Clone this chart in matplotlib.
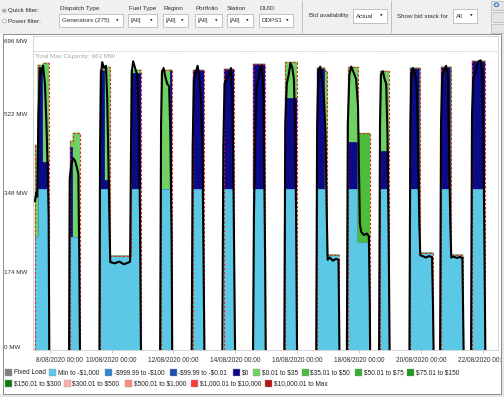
import matplotlib
matplotlib.use('Agg')
import matplotlib.pyplot as plt
import numpy as np
import matplotlib.transforms as mtransforms
from matplotlib.patches import Rectangle, Circle

W, H, DPI = 504, 397, 100
plt.rcParams['font.family'] = ['Liberation Sans', 'DejaVu Sans']
plt.rcParams['text.parse_math'] = False

# ---------------- data ----------------
# bid-stack segments: day of August 2020 (fractional), MW per price band
seg_start = [7.53, 7.62, 7.80, 8.66, 8.77, 9.63, 9.80, 9.95, 10.63, 11.60, 11.88,
             12.63, 13.63, 14.58, 15.60, 16.64, 16.90, 16.96, 17.64, 17.96,
             18.67, 19.64, 19.96, 20.64, 20.96, 21.64]
seg_end = [7.62, 7.80, 7.98, 8.77, 8.98, 9.80, 9.95, 10.63, 10.95, 11.88, 11.96,
           12.99, 13.96, 14.96, 15.99, 16.90, 16.96, 17.35, 17.96, 18.35,
           18.96, 19.96, 20.38, 20.96, 21.35, 22.06]
band_min_to_1000 = [251, 357, 357, 251, 251, 357, 357, 208, 357, 357, 357,
                    357, 357, 357, 357, 357, 357, 210, 357, 240,
                    357, 357, 214, 357, 210, 357]
band_zero = [0, 270, 60, 200, 0, 263, 20, 0, 258, 0, 264,
             263, 265, 276, 201, 267, 0, 0, 103, 0,
             83, 267, 0, 270, 0, 284]
band_001_35 = [203, 5, 220, 12, 230, 0, 251, 0, 5, 264, 0,
               0, 0, 0, 80, 0, 262, 0, 168, 0,
               178, 0, 0, 0, 0, 0]
band_3501_50 = [0, 0, 0, 0, 0, 0, 0, 0, 0, 0, 0,
                0, 0, 0, 0, 0, 0, 0, 0, 242,
                0, 0, 0, 0, 0, 0]

# dispatch (black line); NaN separates operating periods
disp_day = [7.53, 7.57, 7.60, 7.64, 7.69, 7.74, 7.79, 7.85, 7.90, 7.94, 7.97, 7.99, np.nan,
            8.63, 8.65, 8.70, 8.76, 8.82, 8.88, 8.93, 8.96, 8.98, np.nan,
            9.61, 9.63, 9.66, 9.70, 9.76, 9.82, 9.86, 9.90, 9.94, 9.96, 10.10, 10.25, 10.40,
            10.55, 10.60, 10.63, 10.66, 10.70, 10.76, 10.83, 10.88, 10.92, 10.95, np.nan,
            11.57, 11.60, 11.63, 11.68, 11.74, 11.80, 11.86, 11.90, 11.94, 11.96, np.nan,
            12.59, 12.62, 12.66, 12.72, 12.78, 12.84, 12.90, 12.94, 12.97, 13.00, np.nan,
            13.58, 13.61, 13.65, 13.72, 13.80, 13.86, 13.90, 13.93, 13.96, 13.99, np.nan,
            14.57, 14.60, 14.64, 14.68, 14.74, 14.80, 14.85, 14.90, 14.93, 14.96, 14.98, np.nan,
            15.58, 15.61, 15.66, 15.72, 15.78, 15.84, 15.89, 15.93, 15.96, 15.99, np.nan,
            16.61, 16.64, 16.68, 16.74, 16.80, 16.86, 16.91, 16.95, 16.98, 17.05, 17.15,
            17.25, 17.33, 17.36, np.nan,
            17.60, 17.63, 17.68, 17.74, 17.82, 17.90, 17.96, 17.99, 18.02, 18.06, 18.15,
            18.25, 18.31, 18.34, 18.35, np.nan,
            18.64, 18.67, 18.70, 18.76, 18.82, 18.87, 18.91, 18.95, 18.98, np.nan,
            19.62, 19.65, 19.68, 19.73, 19.79, 19.85, 19.90, 19.94, 19.97, 20.05, 20.15,
            20.25, 20.35, 20.38, 20.40, np.nan,
            20.61, 20.64, 20.68, 20.74, 20.80, 20.86, 20.90, 20.94, 20.97, 21.05, 21.15,
            21.25, 21.33, 21.35, 21.37, np.nan,
            21.61, 21.64, 21.68, 21.74, 21.80, 21.86, 21.92, 21.97, 22.01, 22.04, 22.07]
disp_mw = [330, 350, 340, 520, 625, 615, 630, 590, 500, 400, 300, 0, np.nan,
           0, 380, 410, 425, 420, 405, 390, 200, 0, np.nan,
           0, 450, 610, 638, 625, 630, 560, 420, 260, 195, 192, 196, 190,
           194, 196, 450, 620, 640, 625, 610, 520, 300, 0, np.nan,
           0, 500, 615, 625, 605, 590, 585, 480, 250, 0, np.nan,
           0, 450, 600, 615, 630, 605, 540, 420, 200, 0, np.nan,
           0, 450, 590, 600, 612, 625, 560, 420, 200, 0, np.nan,
           0, 300, 480, 580, 600, 625, 630, 580, 420, 200, 0, np.nan,
           0, 500, 590, 610, 636, 625, 600, 500, 300, 0, np.nan,
           0, 500, 620, 628, 600, 560, 480, 300, 200, 205, 198,
           202, 200, 0, np.nan,
           0, 500, 610, 628, 615, 600, 540, 400, 280, 262, 255,
           258, 252, 100, 0, np.nan,
           0, 500, 610, 618, 600, 590, 480, 250, 0, np.nan,
           0, 500, 610, 625, 615, 590, 450, 280, 210, 208, 205,
           208, 206, 100, 0, np.nan,
           0, 500, 610, 618, 630, 610, 450, 280, 205, 207, 204,
           206, 204, 100, 0, np.nan,
           0, 520, 600, 612, 630, 640, 642, 610, 450, 250, 0]

total_max_capacity = 663
ytick_vals = [0, 174, 348, 522, 696]
ytick_labels = ['0 MW', '174 MW', '348 MW', '522 MW', '696 MW']
xtick_days = [8, 10, 12, 14, 16, 18, 20, 22]
xtick_labels = ['8/08/2020 00:00', '10/08/2020 00:00', '12/08/2020 00:00', '14/08/2020 00:00',
                '16/08/2020 00:00', '18/08/2020 00:00', '20/08/2020 00:00', '22/08/2020 00:00']

legend_labels = ['Fixed Load', 'Min to -$1,000', '-$999.99 to -$100', '-$99.99 to -$0.01', '$0',
                 '$0.01 to $35', '$35.01 to $50', '$50.01 to $75', '$75.01 to $150',
                 '$150.01 to $300', '$300.01 to $500', '$500.01 to $1,000',
                 '$1,000.01 to $10,000', '$10,000.01 to Max']
legend_colors = ['#808080', '#5bc8e6', '#2f86cf', '#1c4fb3', '#0b0b8a',
                 '#6dd163', '#4cbc3c', '#30b030', '#1a9e1a',
                 '#0d7a0d', '#ffb0a8', '#ff8a80', '#ff3b3b', '#b31515']

# ---------------- figure ----------------
fig = plt.figure(figsize=(W / DPI, H / DPI), dpi=DPI)
fig.patch.set_facecolor('white')


def fx(x):
    return x / W


def fy(y):
    return 1 - y / H


def prect(x0, y0, x1, y1, **kw):
    r = Rectangle((fx(x0), fy(y1)), (x1 - x0) / W, (y1 - y0) / H,
                  transform=fig.transFigure, **kw)
    fig.add_artist(r)
    return r


def ptext(x, y, s, **kw):
    kw.setdefault('fontsize', 4.5)
    kw.setdefault('va', 'center')
    kw.setdefault('color', '#303030')
    return fig.text(fx(x), fy(y), s, **kw)


# toolbar
prect(0, 0, W, 34, facecolor='#f0f0f0', edgecolor='none')
prect(0, 33.6, W, 34.4, facecolor='#c8c8c8', edgecolor='none')
# radio buttons
for cy, lab, sel in [(10.7, 'Quick filter:', True), (21.3, 'Power filter:', False)]:
    fig.add_artist(Circle((fx(4.3), fy(cy)), 2.2 / W, transform=fig.transFigure,
                          facecolor='white', edgecolor='#909090', lw=0.4))
    if sel:
        fig.add_artist(Circle((fx(4.3), fy(cy)), 1.1 / W, transform=fig.transFigure,
                              facecolor='#3a6fc0', edgecolor='none'))
    ptext(8.5, cy, lab)
for sx, y0, y1 in [(54.5, 3, 31), (302, 1, 33), (391, 1, 33)]:
    prect(sx, y0, sx + 0.6, y1, facecolor='#c0c0c0', edgecolor='none')


def combo(x0, x1, y0, y1, s):
    prect(x0, y0, x1, y1, facecolor='white', edgecolor='#9a9a9a', lw=0.4)
    ptext(x0 + 2.5, (y0 + y1) / 2, s)
    ptext(x1 - 5.5, (y0 + y1) / 2, '\u25BC', fontsize=2.4, family='DejaVu Sans', ha='center')


filters = [('Dispatch Type', 60, 59, 123, 'Generators (275)'),
           ('Fuel Type', 129, 128, 157, '[All]'),
           ('Region', 163, 163, 188, '[All]'),
           ('Portfolio', 195, 195, 222, '[All]'),
           ('Station', 227, 227, 253, '[All]'),
           ('DUID', 259, 259, 293, 'DDPS1')]
for lab, lx, cx0, cx1, val in filters:
    ptext(lx, 8.3, lab)
    combo(cx0, cx1, 14, 26.5, val)
ptext(309, 16, 'Bid availability')
combo(353, 387, 9.5, 22.5, 'Actual')
ptext(397, 16, 'Show bid stack for')
combo(453, 477, 9.5, 22.5, 'All')
for y0, y1 in [(0.5, 10), (12, 22), (24, 33)]:
    prect(490.5, y0, 503.5, y1, facecolor='#e4e4e4', edgecolor='#a8a8a8', lw=0.4)
fig.add_artist(Circle((fx(496.5), fy(4.8)), 2.2 / W, transform=fig.transFigure,
                      facecolor='none', edgecolor='#2b78d0', lw=0.8))

# frame / shadow
prect(500.5, 34, W, H, facecolor='#e6e6e6', edgecolor='none')
prect(0, 393.5, W, H, facecolor='#e6e6e6', edgecolor='none')
prect(2.5, 34.4, 500.5, 393.5, facecolor='none', edgecolor='#7a7a7a', lw=0.6)

# ---------------- chart ----------------
ax = fig.add_axes([fx(33), fy(350), (498 - 33) / W, (350 - 36) / H])
ax.set_xlim(7.465, 22.48)
ax.set_ylim(0, 696)

bands = [(band_min_to_1000, legend_colors[1]), (band_zero, legend_colors[4]),
         (band_001_35, legend_colors[5]), (band_3501_50, legend_colors[6])]

# split into contiguous runs
runs = []
cur = [0]
for i in range(1, len(seg_start)):
    if abs(seg_start[i] - seg_end[i - 1]) < 1e-9:
        cur.append(i)
    else:
        runs.append(cur)
        cur = [i]
runs.append(cur)

for run in runs:
    xs = [seg_start[i] for i in run] + [seg_end[run[-1]]]
    lower = np.zeros(len(xs))
    for vals, col in bands:
        v = np.array([vals[i] for i in run] + [vals[run[-1]]], dtype=float)
        ax.fill_between(xs, lower, lower + v, step='post', facecolor=col,
                        edgecolor=col, lw=0.2)
        lower = lower + v
    # max availability outline (red dashed)
    ox, oy = [xs[0]], [0]
    for k, i in enumerate(run):
        top = lower[k]
        ox += [seg_start[i], seg_end[i]]
        oy += [top, top]
    ox.append(seg_end[run[-1]])
    oy.append(0)
    ax.plot(ox, oy, color='#e8281e', lw=0.8, ls=(0, (2.2, 1.6)), zorder=3)

ax.plot(disp_day, disp_mw, color='black', lw=1.5, zorder=4, solid_joinstyle='round')

ax.axhline(total_max_capacity, color='#c4c4c4', lw=0.7, ls=(0, (1, 1)), zorder=1)
ax.text(7.52, 657, 'Total Max Capacity: %d MW' % total_max_capacity, fontsize=4.5,
        color='#a8a8a8', va='top', ha='left')

for sp in ax.spines.values():
    sp.set_color('#cfcfcf')
    sp.set_linewidth(0.6)

ax.set_xticks(xtick_days)
ax.set_xticklabels(xtick_labels, fontsize=4.7, color='#303030')
ax.tick_params(axis='x', length=2, color='#b0b0b0', width=0.5, pad=3.2)
lbl0 = ax.get_xticklabels()[0]
lbl0.set_transform(lbl0.get_transform() +
                   mtransforms.ScaledTranslation(9.6 / DPI, 0, fig.dpi_scale_trans))

ax.set_yticks(ytick_vals)
ax.set_yticklabels(ytick_labels, fontsize=4.5, color='#303030', ha='left')
ax.tick_params(axis='y', length=0, pad=29 * 72 / DPI)
ylbls = ax.get_yticklabels()
ylbls[0].set_va('bottom')
ylbls[-1].set_va('top')
ylbls[-1].set_transform(ylbls[-1].get_transform() +
                        mtransforms.ScaledTranslation(0, -3.0 / DPI, fig.dpi_scale_trans))

# legend (manual, two rows)
row1_x = [5, 49, 105, 170, 233, 253, 302, 355, 407]
row2_x = [5, 64, 125, 191, 265]
positions = [(x, 372.7) for x in row1_x] + [(x, 383.5) for x in row2_x]
for (lx, ly), lab, col in zip(positions, legend_labels, legend_colors):
    prect(lx, ly - 3.5, lx + 7, ly + 3.5, facecolor=col, edgecolor='#9a9a9a', lw=0.3)
    ptext(lx + 8.5, ly, lab, fontsize=4.7, color='#202020')

fig.savefig('out.png', dpi=DPI)
